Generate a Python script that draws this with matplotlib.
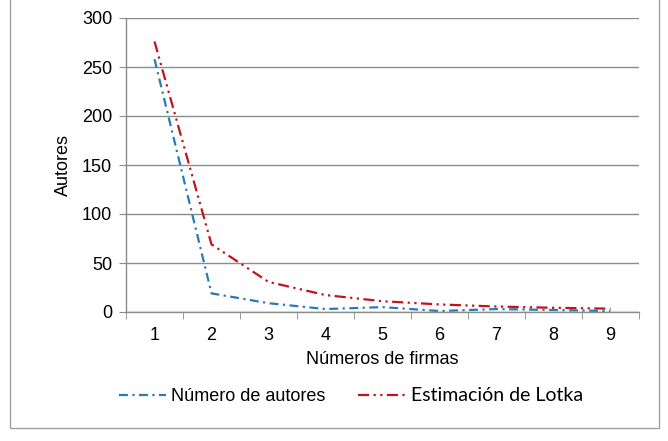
import numpy as np
import matplotlib.pyplot as plt
from matplotlib.patches import Rectangle

plt.rcParams.update({
    "font.family": ["Liberation Sans", "DejaVu Sans"],
    "font.size": 13,
})

firmas = [1, 2, 3, 4, 5, 6, 7, 8, 9]
num_autores = [258, 19, 9, 3, 5, 1, 3, 2, 1]
lotka = [276, 69, 30.7, 17.3, 11, 7.7, 5.6, 4.3, 3.4]
yticks = [0, 50, 100, 150, 200, 250, 300]

blue = "#2A7AB8"
red = "#C0141C"
grid_gray = "#8C8C8C"

fig = plt.figure(figsize=(6.68, 4.41), dpi=100)
ax = fig.add_axes([126 / 668, 1 - 312 / 441, 513 / 668, 294 / 441])

ax.plot(firmas, num_autores, color=blue, lw=1.6,
        linestyle=(0, (4, 2, 1, 2)), label="Número de autores")
ax.plot(firmas, lotka, color=red, lw=1.6,
        linestyle=(0, (5, 2, 1, 2, 1, 2)), label="Estimación de Lotka")

ax.set_xlim(0.5, 9.5)
ax.set_ylim(0, 300)
ax.set_yticks(yticks)
ax.set_xticks(firmas)
ax.set_xticks(np.arange(0.5, 10, 1), minor=True)
ax.tick_params(axis="x", which="major", length=0, pad=11)
ax.tick_params(axis="x", which="minor", length=5, color=grid_gray, direction="out")
ax.tick_params(axis="y", length=5, color=grid_gray, direction="out", pad=5)
ax.yaxis.grid(True, color=grid_gray, lw=1.0)
ax.set_axisbelow(True)
for s in ["top", "right"]:
    ax.spines[s].set_visible(False)
for s in ["left", "bottom"]:
    ax.spines[s].set_color(grid_gray)
    ax.spines[s].set_linewidth(1.0)

ax.set_xlabel("Números de firmas", labelpad=5)
ax.set_ylabel("Autores", labelpad=7)

leg = fig.legend(loc="center", bbox_to_anchor=(351 / 668, 1 - 396 / 441),
                 ncol=2, frameon=False, handlelength=2.6, handletextpad=0.3,
                 columnspacing=1.8)
leg.get_texts()[1].set_family(["Lato", "DejaVu Sans"])
leg.get_texts()[1].set_fontsize(14)

fig.patches.append(Rectangle((10 / 668, 13 / 441), 649 / 668, 1.0,
                             transform=fig.transFigure, fill=False,
                             edgecolor="#A0A0A0", lw=1.0))

fig.savefig("out.png", dpi=100)
